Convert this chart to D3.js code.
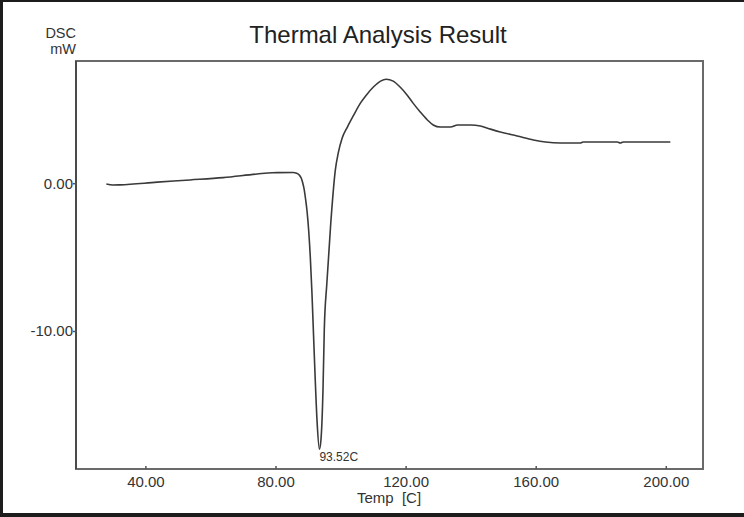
<!DOCTYPE html>
<html>
<head>
<meta charset="utf-8">
<script src="https://cdn.jsdelivr.net/npm/d3@7"></script>
<style>
  html, body { margin: 0; padding: 0; background: #fff; }
  svg { display: block; }
  text { font-family: "Liberation Sans", Arial, sans-serif; }
</style>
</head>
<body>
<script>
// Data (temperature °C, DSC mW)
const temps = [28, 30, 32.2, 43.6, 53.7, 63.9, 74.3, 79.0, 85.4, 86.5, 87.3, 87.9, 88.4, 88.8, 89.2, 89.7, 90.2, 90.7, 91.2, 91.7, 92.2, 92.8, 93.5, 94.0, 94.6, 95.0, 95.8, 97.0, 98.4, 99.3, 100.5, 102.1, 103.9, 106.1, 107.9, 110.1, 112.3, 114.0, 116.2, 118.3, 120.5, 122.3, 124.5, 126.7, 128.5, 130.7, 133.8, 136.0, 140.0, 143.0, 146.1, 149.1, 154.3, 159.3, 163.0, 167.6, 173.7, 174.6, 185.1, 186.0, 186.9, 201.4];
const dsc   = [-0.05, -0.12, -0.11, 0.07, 0.22, 0.38, 0.62, 0.71, 0.72, 0.68, 0.55, 0.35, 0.0, -0.4, -1.0, -1.9, -3.2, -5.0, -7.4, -10.3, -13.2, -16.2, -18.0, -17.3, -14.0, -9.91, -6.74, -2.68, 0.90, 2.05, 3.06, 3.80, 4.55, 5.42, 5.96, 6.51, 6.91, 7.04, 6.91, 6.51, 5.96, 5.42, 4.82, 4.28, 3.94, 3.80, 3.80, 3.94, 3.94, 3.87, 3.66, 3.47, 3.20, 2.93, 2.79, 2.72, 2.72, 2.79, 2.79, 2.72, 2.79, 2.79];
const xTickValues = [40, 80, 120, 160, 200];
const yTickValues = [0, -10];
const peakTemp = 93.5;
const peakValue = -18.0;
const peakLabel = "93.52C";
const titleText = "Thermal Analysis Result";
const xLabel = "Temp  [C]";
const yLabelTop = "DSC";
const yLabelBottom = "mW";

const W = 744, H = 517;
const L = 76, R = 703, T = 61, B = 469;

const svg = d3.select("body").append("svg").attr("width", W).attr("height", H);
svg.append("rect").attr("width", W).attr("height", H).attr("fill", "#fff");

// dark scan border
svg.append("rect").attr("x", 0).attr("y", 0).attr("width", W).attr("height", 2).attr("fill", "#1c1c1c");
svg.append("rect").attr("x", 0).attr("y", 0).attr("width", 3).attr("height", H).attr("fill", "#1c1c1c");
svg.append("rect").attr("x", 0).attr("y", H - 4).attr("width", W).attr("height", 4).attr("fill", "#1c1c1c");

const x = d3.scaleLinear().domain([18.66, 211.44]).range([L, R]);
const y = d3.scaleLinear().domain([-19.34, 8.27]).range([B, T]);

const fmt = d => d3.format(".2f")(d).replace("\u2212", "-");

// frame
svg.append("rect").attr("x", L).attr("y", T).attr("width", R - L).attr("height", B - T)
  .attr("fill", "none").attr("stroke", "#6a6a6a").attr("stroke-width", 2);
svg.append("line").attr("x1", L).attr("x2", L).attr("y1", T).attr("y2", B)
  .attr("stroke", "#4a4a4a").attr("stroke-width", 2);

// x axis
const xAxis = d3.axisBottom(x).tickValues(xTickValues).tickSize(-3).tickPadding(7).tickFormat(fmt);
const gx = svg.append("g").attr("transform", `translate(0,${B})`).call(xAxis);
gx.select(".domain").remove();
gx.selectAll(".tick line").attr("stroke", "#555").attr("stroke-width", 1.5);
gx.selectAll(".tick text").attr("font-size", 15).attr("fill", "#333")
  .attr("font-family", "'Liberation Sans', Arial, sans-serif").attr("dy", "0.71em");

// y axis
const yAxis = d3.axisLeft(y).tickValues(yTickValues).tickSize(4).tickPadding(0).tickFormat(fmt);
const gy = svg.append("g").attr("transform", `translate(${L + 1},0)`).call(yAxis);
gy.select(".domain").remove();
gy.selectAll(".tick line").attr("stroke", "#555").attr("stroke-width", 1.5);
gy.selectAll(".tick text").attr("font-size", 15).attr("fill", "#333")
  .attr("font-family", "'Liberation Sans', Arial, sans-serif");

// curve
const pts = temps.map((t, i) => [t, dsc[i]]);
const line = d3.line().x(d => x(d[0])).y(d => y(d[1])).curve(d3.curveMonotoneX);
svg.append("path").datum(pts).attr("d", line)
  .attr("fill", "none").attr("stroke", "#3a3a3a").attr("stroke-width", 1.6)
  .attr("stroke-linejoin", "round");

// peak label
svg.append("text").attr("x", x(peakTemp)).attr("y", y(peakValue) + 12)
  .attr("font-size", 12).attr("fill", "#333").text(peakLabel);

// title
svg.append("text").attr("x", 378).attr("y", 43).attr("text-anchor", "middle")
  .attr("font-size", 24).attr("fill", "#222").text(titleText);

// axis labels
svg.append("text").attr("x", 76).attr("y", 38).attr("text-anchor", "end")
  .attr("font-size", 14.5).attr("fill", "#333").text(yLabelTop);
svg.append("text").attr("x", 76).attr("y", 54).attr("text-anchor", "end")
  .attr("font-size", 14.5).attr("fill", "#333").text(yLabelBottom);
svg.append("text").attr("x", 389).attr("y", 503).attr("text-anchor", "middle")
  .attr("font-size", 15).attr("fill", "#333").attr("xml:space", "preserve")
  .style("white-space", "pre").text(xLabel);
</script>
</body>
</html>
